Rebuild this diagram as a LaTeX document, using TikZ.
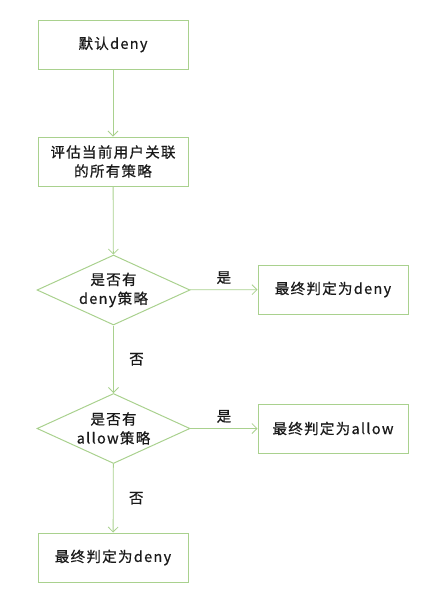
\documentclass[tikz,border=0pt]{standalone}
\usepackage{fontspec}
\setmainfont{Noto Sans CJK SC}[LetterSpace=9,FakeBold=0.6]
\usetikzlibrary{shapes,arrows.meta,positioning}
\usepackage{xcolor}
\definecolor{flowline}{HTML}{A9D18E}

\begin{document}
\begin{tikzpicture}[x=1pt,y=-1pt]
      \tikzstyle{stepbox} = [rectangle, draw=flowline, line width=1pt, minimum width=150pt, minimum height=49pt, align=center, font=\fontsize{14.5}{19}\selectfont, text=black!90]
      \tikzstyle{decision} = [diamond, draw=flowline, line width=1pt, minimum width=153pt, minimum height=70pt, inner sep=0pt, aspect=2.2, align=center, font=\fontsize{14.5}{19}\selectfont, text=black!90]
      \tikzstyle{flow} = [draw=flowline, line width=0.8pt, -{Straight Barb[length=5pt,width=10pt]}]
      \tikzstyle{answer} = [font=\fontsize{14.5}{19}\selectfont, text=black!90]

      \useasboundingbox (0,0) rectangle (447,611);

      \node[stepbox] (start) at (113,44.5) {默认deny};
      \node[stepbox] (eval) at (113,161.5) {评估当前用户关联\\的所有策略};
      \node[decision] (hasdeny) at (113.5,290) {是否有\\deny策略};
      \node[stepbox] (denyres) at (333,289.5) {最终判定为deny};
      \node[decision] (hasallow) at (113.5,428.5) {是否有\\allow策略};
      \node[stepbox] (allowres) at (333,428.5) {最终判定为allow};
      \node[stepbox] (final) at (113,557.5) {最终判定为deny};

      \draw[flow] (start) -- (eval);
      \draw[flow] (eval) -- (hasdeny);
      \draw[flow] (hasdeny) -- node[answer, above=2pt] {是} (denyres);
      \draw[flow] (hasdeny) -- node[answer, right=12pt] {否} (hasallow);
      \draw[flow] (hasallow) -- node[answer, above=2pt] {是} (allowres);
      \draw[flow] (hasallow) -- node[answer, right=12pt] {否} (final);
    \end{tikzpicture}
\end{document}
